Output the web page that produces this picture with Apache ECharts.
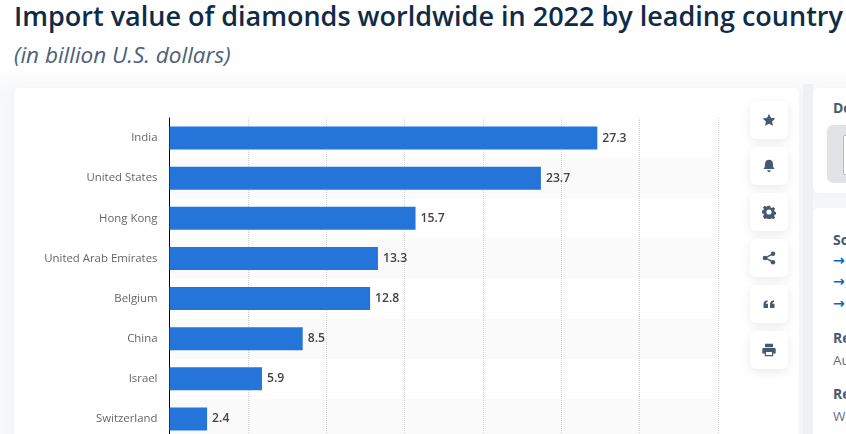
<!DOCTYPE html>
<html lang="en">

<head>
  <meta charset="UTF-8">
  <title>Import value of diamonds worldwide in 2022</title>
  <style>
    html, body { margin: 0; padding: 0; }
    body {
      width: 846px;
      height: 434px;
      overflow: hidden;
      position: relative;
      background: linear-gradient(#fff 68px, #f7f8fa 92px);
      font-family: "Open Sans", sans-serif;
    }
    #gap { position: absolute; left: 803px; top: 84px; width: 10px; height: 350px; background: #eff1f4; }
    h1 {
      position: absolute; left: 14px; top: -3px; margin: 0; white-space: nowrap;
      font-size: 27px; line-height: 38px; font-weight: 600; color: #0f2b46;
    }
    h2 {
      position: absolute; left: 14px; top: 40px; margin: 0; white-space: nowrap;
      font-size: 22.5px; line-height: 30px; font-weight: 400; font-style: italic; color: #4a6178;
    }
    .card {
      position: absolute; background: #fff; border-radius: 6px;
      box-shadow: 0 2px 12px rgba(70, 90, 110, 0.05);
    }
    #main-card { left: 14px; top: 88px; width: 785px; height: 370px; }
    #chart { position: absolute; left: 0; top: 0; width: 846px; height: 434px; }
    .btn {
      position: absolute; left: 750px; width: 38px; height: 38px; background: #fff; border-radius: 6px;
      box-shadow: 0 3px 10px rgba(70, 90, 110, 0.12);
    }
    .btn svg { position: absolute; left: 12px; top: 12px; width: 14px; height: 14px; fill: #455a70; }
    #side { position: absolute; left: 813px; top: 0; width: 33px; height: 434px; overflow: hidden; }
    #side .card { left: 0; width: 200px; }
    .t { position: absolute; left: 20px; white-space: nowrap; font-size: 14px; line-height: 18px; }
    .b { font-weight: 700; color: #455a70; }
    .n { color: #5f7182; font-size: 13.5px; }
    .a { color: #0666c4; font-family: "DejaVu Sans"; font-weight: 700; font-size: 14px; }
    #dl-box { position: absolute; left: 14px; top: 37px; width: 100px; height: 58px; background: #e1e3e6; border-radius: 6px; }
    #dl-in { position: absolute; left: 16px; top: 10px; width: 40px; height: 38px; background: #fff; border: 1px solid #b5bbc2; border-radius: 2px; }
  </style>
</head>

<body>
  <div id="gap"></div>
  <h1>Import value of diamonds worldwide in 2022 by leading country</h1>
  <h2>(in billion U.S. dollars)</h2>
  <div class="card" id="main-card"></div>

  <div id="side">
    <div class="card" style="top: 88px; height: 105px;">
      <div class="t b" style="top: 11px;">Download</div>
      <div id="dl-box"><div id="dl-in"></div></div>
    </div>
    <div class="card" style="top: 208px; height: 260px;">
      <div class="t b" style="top: 23px;">Source</div>
      <div class="t a" style="top: 43px;">→</div>
      <div class="t a" style="top: 64px;">→</div>
      <div class="t a" style="top: 86px;">→</div>
      <div class="t b" style="top: 121px;">Release date</div>
      <div class="t n" style="top: 143px;">August 2023</div>
      <div class="t b" style="top: 177px;">Region</div>
      <div class="t n" style="top: 199px;">Worldwide</div>
    </div>
  </div>

  <div id="chart"></div>

  <div class="btn" style="top: 101px;"><svg viewBox="0 0 14 14"><path d="M7 .8l1.900 4 4.400.6-3.200 3 .8 4.400L7 10.700l-3.900 2.100.8-4.400-3.200-3 4.400-.6z"/></svg></div>
  <div class="btn" style="top: 147px;"><svg viewBox="0 0 14 14"><path d="M7 .8c-2.600 0-4 2-4 4.400 0 2.600-.7 3.600-1.600 4.800h11.200C11.700 8.800 11 7.800 11 5.200 11 2.800 9.600.8 7 .8zM5.300 11.300h3.400c0 1-.8 1.800-1.700 1.800s-1.700-.8-1.700-1.800z"/></svg></div>
  <div class="btn" style="top: 193px;"><svg viewBox="0 0 14 14"><path fill-rule="evenodd" d="M5.800.8h2.400l.4 1.800 1.200.5 1.600-1 1.700 1.700-1 1.600.5 1.200 1.800.4v2.400l-1.800.4-.5 1.200 1 1.600-1.700 1.700-1.600-1-1.200.5-.4 1.800H5.800l-.4-1.800-1.200-.5-1.600 1L.9 11.300l1-1.600-.5-1.200-1.800-.4V5.700l1.800-.4.500-1.200-1-1.600L2.600.8l1.600 1 1.200-.5zM7 4.400a2.600 2.600 0 1 0 0 5.200 2.600 2.600 0 0 0 0-5.200z"/></svg></div>
  <div class="btn" style="top: 239px;"><svg viewBox="0 0 14 14"><circle cx="11" cy="2.800" r="2.300"/><circle cx="3" cy="7" r="2.300"/><circle cx="11" cy="11.200" r="2.300"/><path d="M3 6.300l8-4.200.6 1.100-8 4.200zM3.600 6.300l8 4.200-.6 1.400-8-4.300z"/></svg></div>
  <div class="btn" style="top: 285px;"><svg viewBox="0 0 14 14"><path d="M1.500 11V7.200C1.500 5 2.700 3.700 5.500 3.300v1.700C4.300 5.300 3.800 5.800 3.700 6.800h2.300V11zM8 11V7.200C8 5 9.200 3.700 12 3.300v1.700c-1.200.3-1.700.8-1.800 1.800h2.300V11z"/></svg></div>
  <div class="btn" style="top: 331px;"><svg viewBox="0 0 14 14"><path fill-rule="evenodd" d="M3 .8h8v3.400H3zM1.500 5h11c.6 0 1.200.5 1.200 1.200v4.300h-2.500v2.700H2.800v-2.700H.3V6.200C.3 5.500.900 5 1.500 5zM4 9v3h6V9z"/></svg></div>

  <script src="https://cdn.jsdelivr.net/npm/echarts@6/dist/echarts.min.js"></script>
  <script>
    const countries = ['India', 'United States', 'Hong Kong', 'United Arab Emirates', 'Belgium', 'China', 'Israel', 'Switzerland']
    const importValues = [27.3, 23.7, 15.7, 13.3, 12.8, 8.5, 5.9, 2.4]

    const chart = echarts.init(document.querySelector('#chart'))
    chart.setOption({
      backgroundColor: 'transparent',
      animation: false,
      grid: {
        left: 169.5,
        top: 118,
        width: 548.5,
        height: 321,
        // the last row runs off the bottom of the window in the original
        outerBoundsMode: 'none'
      },
      xAxis: {
        type: 'value',
        min: 0,
        max: 35,
        interval: 5,
        axisLine: { show: false },
        axisTick: { show: false },
        axisLabel: { show: false },
        splitLine: {
          show: true,
          lineStyle: { color: '#d2d2d2', type: 'dotted', width: 1 }
        }
      },
      yAxis: {
        type: 'category',
        inverse: true,
        data: countries,
        axisLine: { show: true, onZero: false, lineStyle: { color: '#000', width: 1 } },
        axisTick: { show: false },
        axisLabel: {
          color: '#666',
          fontFamily: 'Open Sans',
          fontSize: 11.4,
          margin: 12
        },
        splitArea: {
          show: true,
          areaStyle: { color: ['rgba(255,255,255,0)', '#fafafa'] }
        }
      },
      series: [
        {
          type: 'bar',
          data: importValues,
          barWidth: 23,
          itemStyle: { color: '#2574d9' },
          label: {
            show: true,
            position: 'right',
            distance: 5,
            color: '#444',
            fontFamily: 'Open Sans',
            fontSize: 12.2,
            fontWeight: 600,
            formatter: p => p.value.toFixed(1)
          }
        }
      ]
    })
  </script>
</body>

</html>
